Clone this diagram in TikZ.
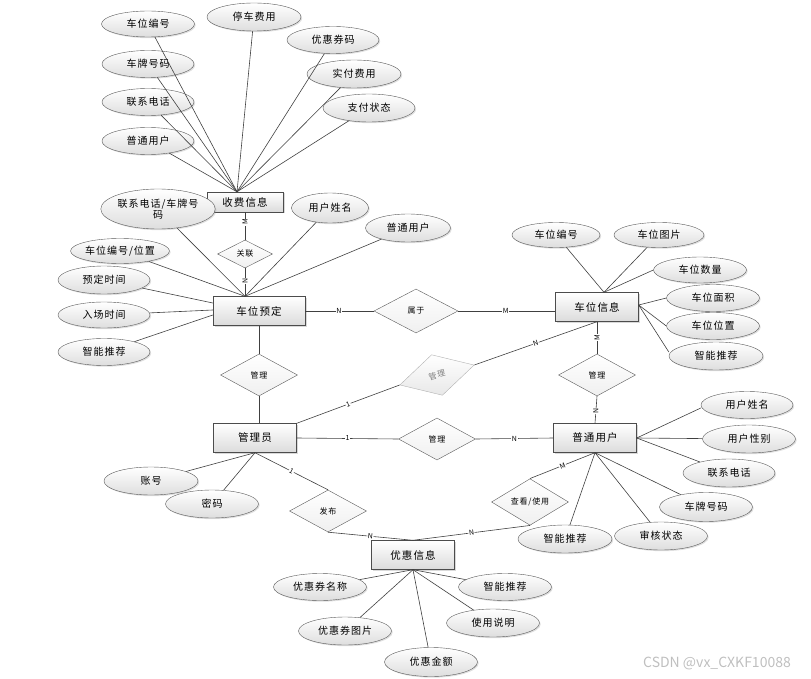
\documentclass[tikz,border=0pt]{standalone}
\usepackage{fontspec}
\newfontfamily\cjk[LetterSpace=10]{Noto Sans CJK SC}
\newfontfamily\cjkplain{Noto Sans CJK SC}
\usetikzlibrary{shapes.geometric,shadows}

\tikzset{
  entity/.style={rectangle, draw=black!70, top color=white, bottom color=black!14,
    minimum width=83pt, minimum height=29pt, inner sep=0pt,
    font=\cjk\fontsize{10.5}{12}\selectfont,
    drop shadow={opacity=0.3, shadow xshift=1.5pt, shadow yshift=-1.5pt}},
  attr/.style={ellipse, draw=black!65, top color=white, bottom color=black!13,
    minimum width=93pt, minimum height=28pt, inner sep=0pt,
    font=\cjk\fontsize{10}{11}\selectfont,
    drop shadow={opacity=0.25, shadow xshift=1.2pt, shadow yshift=-1.2pt}},
  rel/.style={diamond, draw=black!65, top color=white, bottom color=black!6,
    minimum width=77pt, minimum height=42pt, inner sep=0pt,
    font=\cjk\fontsize{8}{9}\selectfont},
  lbl/.style={fill=white, inner sep=0.6pt, font=\cjkplain\fontsize{7}{8}\selectfont},
  edgeline/.style={draw=black!75, line width=0.6pt}
}

\begin{document}
\begin{tikzpicture}[x=1pt, y=-1pt]
  \useasboundingbox (0,0) rectangle (811,679);

  \node[entity, minimum width=76pt, minimum height=20pt] (sfxx) at (245,202) {收费信息};
  \node[entity, minimum width=92pt] (cwyd) at (259,311) {车位预定};
  \node[entity] (cwxx) at (597,307) {车位信息};
  \node[entity] (gly) at (255,438) {管理员};
  \node[entity] (ptyh) at (595,438) {普通用户};
  \node[entity] (yhxx) at (413,555) {优惠信息};

  \node[rel, minimum width=55pt, minimum height=28pt] (gl) at (245,254) {关联};
  \node[rel, minimum width=84pt, minimum height=44pt] (sy) at (416,311) {属于};
  \node[rel] (gl2) at (259,375) {管理};
  \node[rel, draw=black!30, text=black!50, bottom color=black!9, rotate=15] (gd) at (437,375) {管理};
  \node[rel] (gl1) at (437,439) {管理};
  \node[rel] (gl3) at (597,375) {管理};
  \node[rel] (fb) at (328,511) {发布};
  \node[rel] (cksy) at (530,502) {查看/使用};

  \node[attr, minimum height=26pt] (sfbh) at (148,24) {车位编号};
  \node[attr, minimum width=94pt] (tcfy) at (254,17) {停车费用};
  \node[attr, minimum width=92pt, minimum height=27pt] (yhqm) at (333,40) {优惠券码};
  \node[attr, minimum width=92pt, minimum height=27pt] (cphm1) at (148,64) {车牌号码};
  \node[attr, minimum width=94pt] (sffy) at (354,74) {实付费用};
  \node[attr, minimum width=92pt, minimum height=27pt] (lxdh1) at (148,102) {联系电话};
  \node[attr, minimum width=92pt] (zfzt) at (369,108) {支付状态};
  \node[attr, minimum width=92pt, minimum height=27pt] (ptyh1) at (148,141) {普通用户};

  \node[attr, minimum width=95pt, minimum height=40pt, align=center] (lxcp) at (158,209) {联系电话/车牌号\\码};
  \node[attr, minimum width=77pt, minimum height=30pt] (yhxm1) at (330,208) {用户姓名};
  \node[attr, minimum width=85pt] (ptyh2) at (408,228) {普通用户};
  \node[attr, minimum height=25pt] (bhwz) at (120,251) {车位编号/位置};
  \node[attr, minimum width=92pt] (ydsj) at (104,280) {预定时间};
  \node[attr, minimum width=92pt, minimum height=26pt] (rcsj) at (104,315) {入场时间};
  \node[attr, minimum width=92pt, minimum height=27pt] (zntj1) at (104,352) {智能推荐};

  \node[attr, minimum width=88pt, minimum height=25pt] (cwbh) at (556,235) {车位编号};
  \node[attr, minimum width=90pt, minimum height=25pt] (cwtp) at (659,235) {车位图片};
  \node[attr, minimum height=26pt] (cwsl) at (700,270) {车位数量};
  \node[attr, minimum height=27pt] (cwmj) at (713,298) {车位面积};
  \node[attr, minimum height=27pt] (cwwz) at (713,326) {车位位置};
  \node[attr, minimum width=94pt] (zntj2) at (716,356) {智能推荐};

  \node[attr, minimum width=94pt] (zh) at (151,481) {账号};
  \node[attr] (mm) at (212,504) {密码};

  \node[attr, minimum width=92pt, minimum height=27pt] (yhxm2) at (747,405) {用户姓名};
  \node[attr] (yhxb) at (749,439) {用户性别};
  \node[attr, minimum width=92pt] (lxdh2) at (729,473) {联系电话};
  \node[attr, minimum height=29pt] (cphm2) at (706,507) {车牌号码};
  \node[attr] (shzt) at (661,536) {审核状态};
  \node[attr, minimum width=94pt] (zntj3) at (565,539) {智能推荐};

  \node[attr, minimum height=27pt] (yhqmc) at (320,587) {优惠券名称};
  \node[attr, minimum height=27pt] (zntj4) at (505,587) {智能推荐};
  \node[attr] (yhqtp) at (345,631) {优惠券图片};
  \node[attr] (sysm) at (493,623) {使用说明};
  \node[attr, minimum height=29pt] (yhje) at (431,662) {优惠金额};

  \coordinate (sfp) at ([xshift=-8pt]sfxx.north);
  \coordinate (ydp) at ([xshift=-14pt]cwyd.north);
  \coordinate (xxp) at ([xshift=7pt]cwxx.north);
  \coordinate (xxr) at ([yshift=2pt]cwxx.east);

  \draw[edgeline] (sfbh) -- (sfp);
  \draw[edgeline] (tcfy) -- (sfp);
  \draw[edgeline] (yhqm) -- (sfp);
  \draw[edgeline] (cphm1) -- (sfp);
  \draw[edgeline] (sffy) -- (sfp);
  \draw[edgeline] (lxdh1) -- (sfp);
  \draw[edgeline] (zfzt) -- (sfp);
  \draw[edgeline] (ptyh1) -- (sfp);

  \draw[edgeline] (lxcp) -- (ydp);
  \draw[edgeline] (bhwz) -- (ydp);
  \draw[edgeline] (yhxm1) -- (ydp);
  \draw[edgeline] (ptyh2) -- (ydp);
  \draw[edgeline] (ydsj) -- ([yshift=8pt]cwyd.west);
  \draw[edgeline] (rcsj) -- ([yshift=1pt]cwyd.west);
  \draw[edgeline] (zntj1) -- ([yshift=-4pt]cwyd.west);

  \draw[edgeline] (cwbh) -- (xxp);
  \draw[edgeline] (cwtp) -- (xxp);
  \draw[edgeline] (cwsl.west) -- (xxp);
  \draw[edgeline] (cwmj.west) -- (xxr);
  \draw[edgeline] (cwwz.west) -- (xxr);
  \draw[edgeline] ([yshift=4pt]zntj2.west) -- (xxr);

  \draw[edgeline] (zh) -- (gly.south);
  \draw[edgeline] (mm) -- (gly.south);

  \draw[edgeline] ([yshift=-3pt]yhxm2.west) -- (ptyh.east);
  \draw[edgeline] (yhxb) -- (ptyh.east);
  \draw[edgeline] (lxdh2) -- (ptyh.east);
  \draw[edgeline] (cphm2) -- (ptyh.south);
  \draw[edgeline] (shzt) -- (ptyh.south);
  \draw[edgeline] (zntj3) -- (ptyh.south);

  \draw[edgeline] (yhqmc) -- (yhxx.south);
  \draw[edgeline] (zntj4) -- (yhxx.south);
  \draw[edgeline] (yhqtp) -- (yhxx.south);
  \draw[edgeline] (sysm) -- (yhxx.south);
  \draw[edgeline] (yhje) -- (yhxx.south);

  \draw[edgeline] (sfxx.south) -- node[lbl, rotate=90, pos=0.36] {M} (gl.north);
  \draw[edgeline] (gl.south) -- node[lbl, rotate=90, pos=0.46] {N} (ydp);
  \draw[edgeline] (cwyd.east) -- node[lbl, pos=0.49] {N} (sy.west);
  \draw[edgeline] (sy.east) -- node[lbl, pos=0.49] {M} (sy.east -| cwxx.west);
  \draw[edgeline] (cwyd.south -| gl2.north) -- (gl2.north);
  \draw[edgeline] (gl2.south) -- (gl2.south |- gly.north);
  \draw[edgeline] (cwxx.south) -- node[lbl, rotate=90, pos=0.5] {M} (gl3.north);
  \draw[edgeline] (gl3.south) -- node[lbl, rotate=90, pos=0.54] {N} (ptyh.north);
  \draw[edgeline] (gly.north east) -- node[lbl, sloped] {1} (gd.west);
  \draw[edgeline] (gd.east) -- node[lbl, sloped] {N} (cwxx.south);
  \draw[edgeline] (gly.east) -- node[lbl] {1} (gl1.west);
  \draw[edgeline] (gl1.east) -- node[lbl] {N} (ptyh.west);
  \draw[edgeline] (gly.south) -- node[lbl, sloped] {1} (fb.north);
  \draw[edgeline] (fb.south) -- node[lbl, sloped] {N} (yhxx.north);
  \draw[edgeline] (cksy.north) -- node[lbl, sloped] {M} (ptyh.south);
  \draw[edgeline] (cksy.south) -- node[lbl, sloped] {N} (yhxx.north);

  \node[text=black!25, font=\cjkplain\fontsize{14}{16}\selectfont] (wm) at (717,663) {CSDN @vx\_CXKF10088};
\end{tikzpicture}
\end{document}
